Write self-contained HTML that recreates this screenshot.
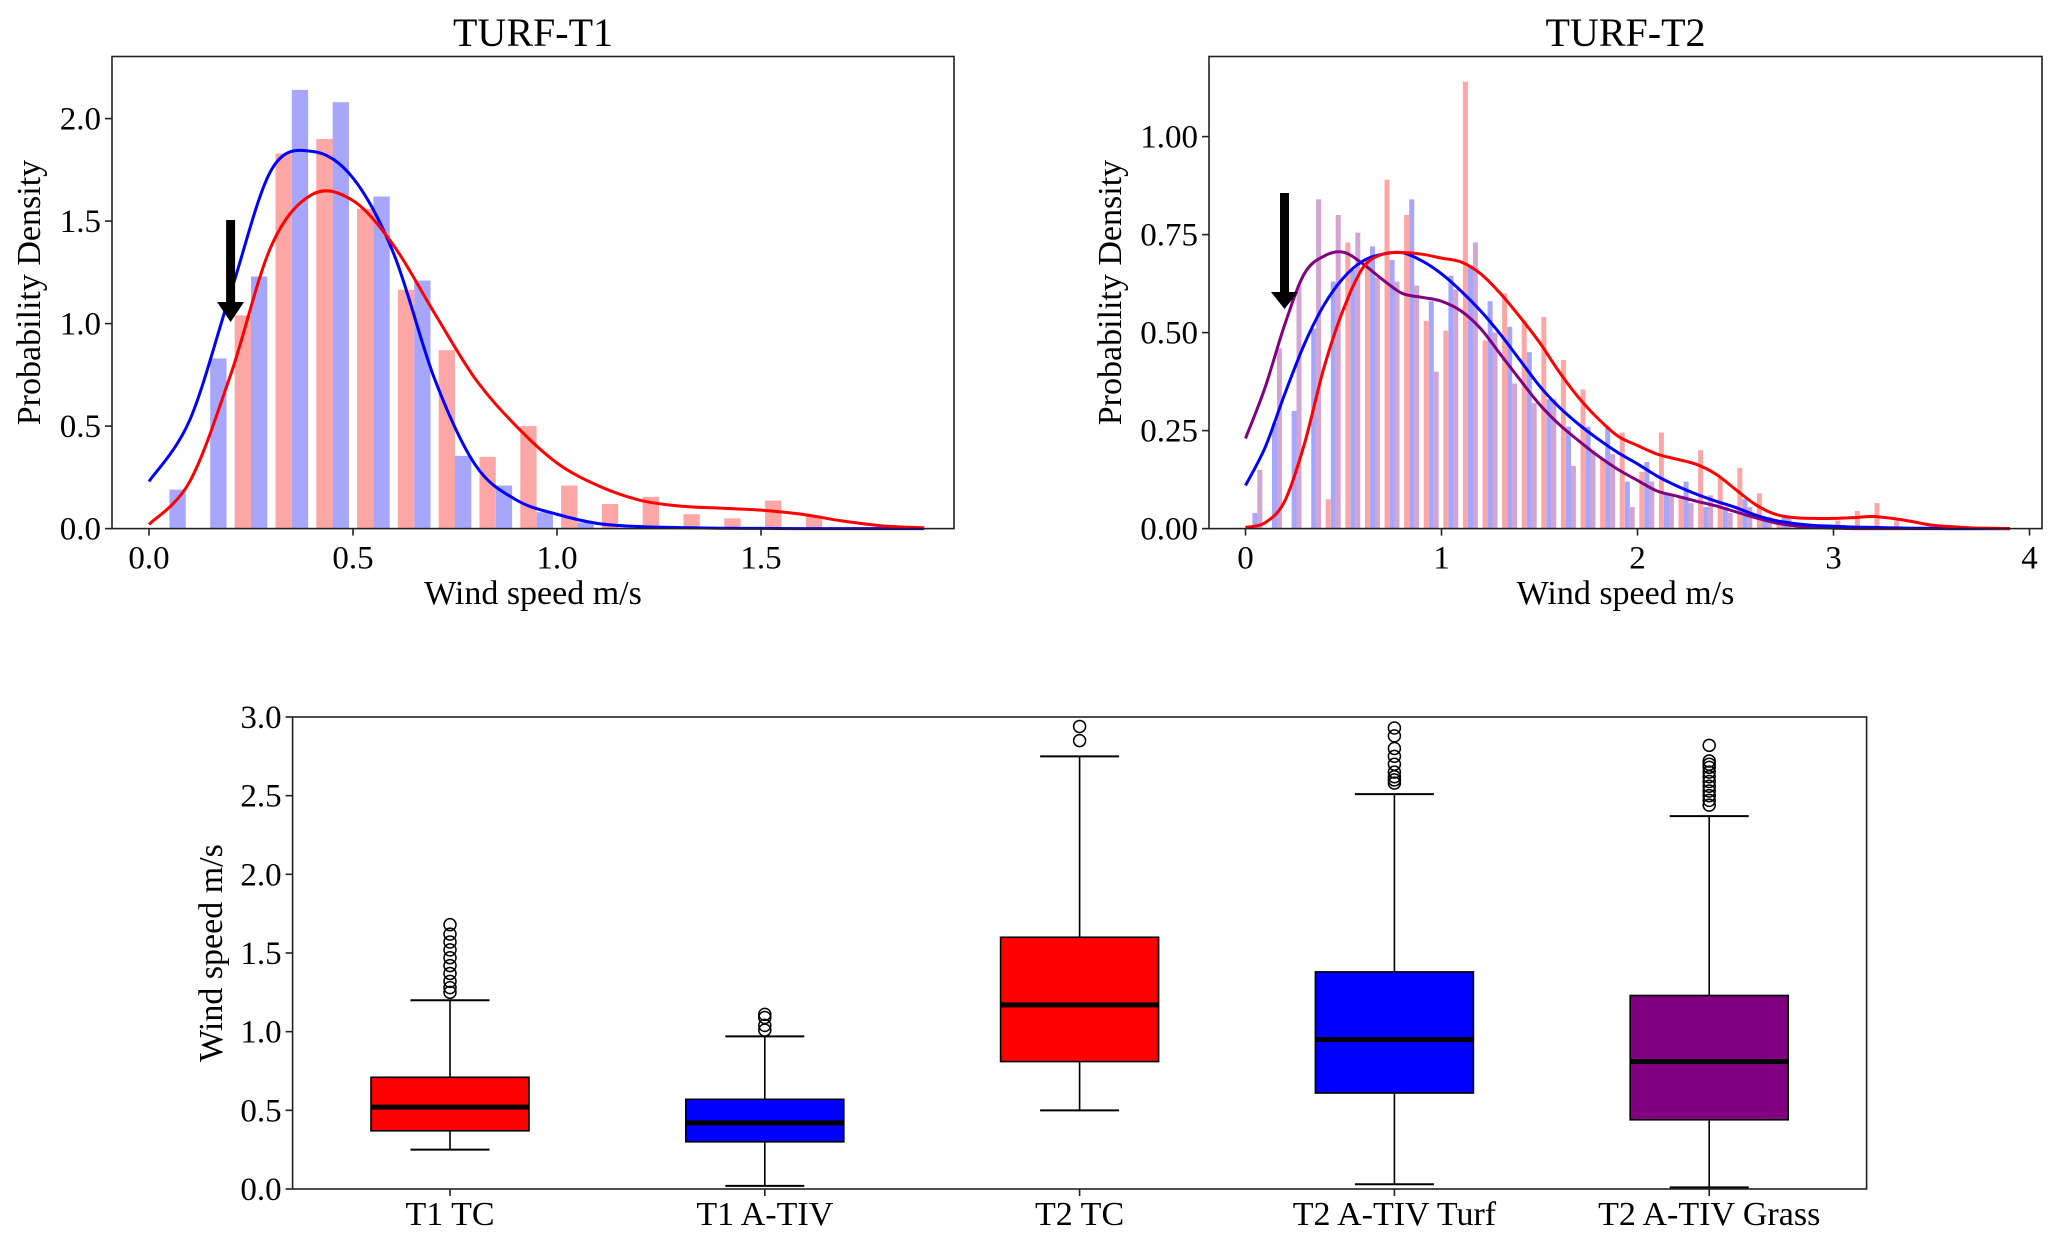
<!DOCTYPE html>
<html><head><meta charset="utf-8"><style>
html,body{margin:0;padding:0;background:#fff;}
svg{display:block;font-family:"Liberation Serif","DejaVu Serif",serif;}
</style></head><body>
<svg id="fig" width="2067" height="1245" viewBox="0 0 2067 1245" xmlns="http://www.w3.org/2000/svg"></svg>
<script>
// ---------- Data: TURF-T1 ----------
const t1BlueHist = [0.19,0.83,1.23,2.14,2.08,1.62,1.21,0.355,0.21,0.08,0.03];
const t1RedHist = [0,0,1.04,1.83,1.90,1.56,1.165,0.87,0.35,0.50,0.21,0.12,0.155,0.07,0.05,0.137,0.06];
const t1BlueKde = [0.23,0.53,1.15,1.75,1.84,1.71,1.34,0.73,0.31,0.14,0.07,0.025,0.01,0.005,0.002,0.001,0,0,0,0];
const t1RedKde = [0.02,0.23,0.75,1.38,1.63,1.60,1.38,1.05,0.73,0.50,0.32,0.21,0.14,0.11,0.10,0.09,0.07,0.037,0.013,0.004];
const t1XTicks = [0,0.5,1.0,1.5];
const t1XTickLabels = ["0.0","0.5","1.0","1.5"];
const t1YTicks = [0,0.5,1.0,1.5,2.0];
const t1YTickLabels = ["0.0","0.5","1.0","1.5","2.0"];
// ---------- Data: TURF-T2 ----------
const t2RedHist = [0,0,0,0,0.075,0.73,0.686,0.89,0.80,0.53,0.505,1.14,0.48,0.60,0.53,0.54,0.43,0.355,0.18,0.245,0.145,0.245,0.08,0.20,0.13,0.155,0.09,0.02,0.01,0.005,0.02,0.045,0.065,0.02];
const t2BlueHist = [0.04,0.27,0.30,0.51,0.63,0.66,0.72,0.685,0.84,0.58,0.645,0.67,0.58,0.515,0.45,0.33,0.26,0.26,0.26,0.12,0.17,0.09,0.12,0.055,0.055,0.075,0.02,0.03,0.01,0.005,0,0,0.005,0];
const t2PurpleHist = [0.15,0.46,0.62,0.84,0.80,0.755,0.64,0.63,0.62,0.40,0.61,0.73,0.50,0.37,0.32,0.33,0.16,0.20,0.19,0.055,0.12,0.085,0.065,0.085,0.04,0.055,0.03,0.03,0.01,0.005,0,0,0,0];
const t2PurpleKde = [0.23,0.36,0.52,0.65,0.695,0.705,0.675,0.635,0.60,0.59,0.58,0.555,0.51,0.445,0.38,0.317,0.266,0.224,0.185,0.151,0.123,0.096,0.083,0.07,0.058,0.043,0.028,0.015,0.007,0.003,0.001,0,0,0,0,0,0,0,0,0];
const t2BlueKde = [0.11,0.207,0.343,0.47,0.57,0.64,0.683,0.70,0.704,0.683,0.65,0.606,0.555,0.496,0.43,0.364,0.31,0.266,0.228,0.194,0.165,0.134,0.109,0.088,0.07,0.054,0.035,0.021,0.013,0.008,0.006,0.004,0.003,0.002,0.001,0.001,0,0,0,0];
const t2RedKde = [0.003,0.015,0.07,0.215,0.41,0.56,0.666,0.70,0.704,0.70,0.69,0.68,0.65,0.60,0.54,0.475,0.40,0.334,0.28,0.236,0.212,0.19,0.177,0.164,0.139,0.10,0.062,0.037,0.028,0.026,0.026,0.028,0.031,0.026,0.018,0.009,0.005,0.002,0.001,0];
const t2XTicks = [0,1,2,3,4];
const t2XTickLabels = ["0","1","2","3","4"];
const t2YTicks = [0,0.25,0.5,0.75,1.0];
const t2YTickLabels = ["0.00","0.25","0.50","0.75","1.00"];
// ---------- Data: box plot ----------
const boxCategories = ["T1 TC","T1 A-TIV","T2 TC","T2 A-TIV Turf","T2 A-TIV Grass"];
const boxColors = ["#ff0000","#0000ff","#ff0000","#0000ff","#800080"];
const boxWhiskerLow = [0.25,0.02,0.50,0.03,0.01];
const boxQ1 = [0.37,0.30,0.81,0.61,0.44];
const boxMedian = [0.52,0.42,1.17,0.95,0.81];
const boxQ3 = [0.71,0.57,1.60,1.38,1.23];
const boxWhiskerHigh = [1.20,0.97,2.75,2.51,2.37];
const boxOutliers = [
  [1.25,1.28,1.32,1.37,1.42,1.47,1.52,1.57,1.62,1.68],
  [1.01,1.04,1.09,1.11],
  [2.85,2.94],
  [2.58,2.60,2.62,2.65,2.70,2.75,2.80,2.88,2.93],
  [2.44,2.47,2.50,2.53,2.56,2.59,2.62,2.65,2.68,2.70,2.72,2.82]
];
const boxYTicks = [0,0.5,1.0,1.5,2.0,2.5,3.0];
const boxYTickLabels = ["0.0","0.5","1.0","1.5","2.0","2.5","3.0"];

const NS = "http://www.w3.org/2000/svg";
const svg = document.getElementById('fig');
function mk(tag, attrs, parent, text){
  const e = document.createElementNS(NS, tag);
  for (const k in attrs) e.setAttribute(k, attrs[k]);
  if (text !== undefined) e.textContent = text;
  (parent||svg).appendChild(e);
  return e;
}
function smoothPath(pts){
  let d = "M" + pts[0][0].toFixed(2) + "," + pts[0][1].toFixed(2);
  for (let i=0;i<pts.length-1;i++){
    const p0 = pts[i-1]||pts[i], p1=pts[i], p2=pts[i+1], p3=pts[i+2]||pts[i+1];
    const c1x = p1[0]+(p2[0]-p0[0])/6, c1y = p1[1]+(p2[1]-p0[1])/6;
    const c2x = p2[0]-(p3[0]-p1[0])/6, c2y = p2[1]-(p3[1]-p1[1])/6;
    d += " C"+c1x.toFixed(2)+","+c1y.toFixed(2)+" "+c2x.toFixed(2)+","+c2y.toFixed(2)+" "+p2[0].toFixed(2)+","+p2[1].toFixed(2);
  }
  return d;
}
function axesFrame(g, L, T, R, B, name){
  const r = mk('rect',{x:L,y:T,width:R-L,height:B-T,fill:'none',stroke:'#222','stroke-width':1.6},g);
  
  
}
function xTicksDraw(g, ticks, labels, sx, B, name){
  ticks.forEach((t,i)=>{
    const x = sx(t);
    const l = mk('line',{x1:x,y1:B,x2:x,y2:B+7,stroke:'#222','stroke-width':1.6},g);
    
    
    const tx = mk('text',{x:x,y:B+40,'font-size':33,'text-anchor':'middle',fill:'#000'},g,labels[i]);
    
    
  });
}
function yTicksDraw(g, ticks, labels, sy, L, name){
  ticks.forEach((t,i)=>{
    const y = sy(t);
    const l = mk('line',{x1:L-7,y1:y,x2:L,y2:y,stroke:'#222','stroke-width':1.6},g);
    
    
    const tx = mk('text',{x:L-11,y:y+11,'font-size':33,'text-anchor':'end',fill:'#000'},g,labels[i]);
    
    
  });
}
function arrow(g, cx, top, headTop, tip, name){
  const p = mk('polygon',{points:[[cx-4.5,top],[cx+4.5,top],[cx+4.5,headTop],[cx+13.5,headTop],[cx,tip],[cx-13.5,headTop],[cx-4.5,headTop]].map(a=>a.join(',')).join(' '),fill:'#000'},g);
  
  
}

// ================= Chart 1 =================
(function(){
  const L=112,R=954,T=56.5,B=528.6;
  const x0=149, xu=408, yu=205;
  const sx = v=>x0+v*xu, sy = v=>B-v*yu;
  const g = mk('g',{});
  
  
  const bw = 0.04;
  t1BlueHist.forEach((v,k)=>{
    const c = 0.07+0.1*k;
    const r = mk('rect',{x:sx(c-bw/2),y:sy(v),width:bw*xu,height:v*yu,fill:'#a6a6fb'},g);
    
    
  });
  t1RedHist.forEach((v,k)=>{
    const c = 0.03+0.1*k;
    const r = mk('rect',{x:sx(c-bw/2),y:sy(v),width:bw*xu,height:v*yu,fill:'#fda6a6'},g);
    
    
  });
  const pb = mk('path',{d:smoothPath(t1BlueKde.map((v,i)=>[sx(i*0.1),sy(v)])),fill:'none',stroke:'#0000ff','stroke-width':3},g);
  
  
  const pr = mk('path',{d:smoothPath(t1RedKde.map((v,i)=>[sx(i*0.1),sy(v)])),fill:'none',stroke:'#ff0000','stroke-width':3},g);
  
  
  arrow(g, sx(0.2), 220, 302, 322, 't1-arrow');
  axesFrame(g,L,T,R,B,'t1-axes-frame');
  xTicksDraw(g,t1XTicks,t1XTickLabels,sx,B,'t1-x');
  yTicksDraw(g,t1YTicks,t1YTickLabels,sy,L,'t1-y');
  const title = mk('text',{x:(L+R)/2,y:46,'font-size':40,'text-anchor':'middle'},g,'TURF-T1');
  
  
  const xl = mk('text',{x:(L+R)/2,y:604,'font-size':34,'text-anchor':'middle'},g,'Wind speed m/s');
  
  
  const yl = mk('text',{x:0,y:0,'font-size':34,'text-anchor':'middle',transform:'translate(40,'+((T+B)/2)+') rotate(-90)'},g,'Probability Density');
  
  
})();

// ================= Chart 2 =================
(function(){
  const L=1209,R=2042,T=56.5,B=528.6;
  const x0=1245.5, xu=196, yu=392;
  const sx = v=>x0+v*xu, sy = v=>B-v*yu;
  const g = mk('g',{});
  
  
  const bw = 0.0255;
  t2RedHist.forEach((v,k)=>{
    const c = 0.022+0.1*k;
    const r = mk('rect',{x:sx(c-bw/2),y:sy(v),width:bw*xu,height:v*yu,fill:'#fda6a6'},g);
    
    
  });
  t2BlueHist.forEach((v,k)=>{
    const c = 0.048+0.1*k;
    const r = mk('rect',{x:sx(c-bw/2),y:sy(v),width:bw*xu,height:v*yu,fill:'#a6a6fb'},g);
    
    
  });
  t2PurpleHist.forEach((v,k)=>{
    const c = 0.073+0.1*k;
    const r = mk('rect',{x:sx(c-bw/2),y:sy(v),width:bw*xu,height:v*yu,fill:'#d2a6d4'},g);
    
    
  });
  const pp = mk('path',{d:smoothPath(t2PurpleKde.map((v,i)=>[sx(i*0.1),sy(v)])),fill:'none',stroke:'#800080','stroke-width':3},g);
  
  
  const pb = mk('path',{d:smoothPath(t2BlueKde.map((v,i)=>[sx(i*0.1),sy(v)])),fill:'none',stroke:'#0000ff','stroke-width':3},g);
  
  
  const pr = mk('path',{d:smoothPath(t2RedKde.map((v,i)=>[sx(i*0.1),sy(v)])),fill:'none',stroke:'#ff0000','stroke-width':3},g);
  
  
  arrow(g, 1284.5, 193, 292, 309, 't2-arrow');
  axesFrame(g,L,T,R,B,'t2-axes-frame');
  xTicksDraw(g,t2XTicks,t2XTickLabels,sx,B,'t2-x');
  yTicksDraw(g,t2YTicks,t2YTickLabels,sy,L,'t2-y');
  const title = mk('text',{x:(L+R)/2,y:46,'font-size':40,'text-anchor':'middle'},g,'TURF-T2');
  
  
  const xl = mk('text',{x:(L+R)/2,y:604,'font-size':34,'text-anchor':'middle'},g,'Wind speed m/s');
  
  
  const yl = mk('text',{x:0,y:0,'font-size':34,'text-anchor':'middle',transform:'translate(1121,'+((T+B)/2)+') rotate(-90)'},g,'Probability Density');
  
  
})();

// ================= Box plot =================
(function(){
  const L=292.6,R=1866.6,T=717,B=1189;
  const yu=(B-T)/3;
  const sy = v=>B-v*yu;
  const sx = i=>L+(i+0.5)*((R-L)/boxCategories.length);
  const g = mk('g',{});
  
  
  const bw=158, cw=79;
  boxCategories.forEach((c,i)=>{
    const x = sx(i);
    const w1 = mk('line',{x1:x,y1:sy(boxWhiskerLow[i]),x2:x,y2:sy(boxQ1[i]),stroke:'#000','stroke-width':1.6},g);
    
    
    const w2 = mk('line',{x1:x,y1:sy(boxQ3[i]),x2:x,y2:sy(boxWhiskerHigh[i]),stroke:'#000','stroke-width':1.6},g);
    
    
    const c1 = mk('line',{x1:x-cw/2,y1:sy(boxWhiskerLow[i]),x2:x+cw/2,y2:sy(boxWhiskerLow[i]),stroke:'#000','stroke-width':2},g);
    
    
    const c2 = mk('line',{x1:x-cw/2,y1:sy(boxWhiskerHigh[i]),x2:x+cw/2,y2:sy(boxWhiskerHigh[i]),stroke:'#000','stroke-width':2},g);
    
    
    const r = mk('rect',{x:x-bw/2,y:sy(boxQ3[i]),width:bw,height:sy(boxQ1[i])-sy(boxQ3[i]),fill:boxColors[i],stroke:'#000','stroke-width':1.6},g);
    
    
    const m = mk('line',{x1:x-bw/2,y1:sy(boxMedian[i]),x2:x+bw/2,y2:sy(boxMedian[i]),stroke:'#000','stroke-width':5},g);
    
    
    boxOutliers[i].forEach(v=>{
      const o = mk('circle',{cx:x,cy:sy(v),r:6,fill:'none',stroke:'#000','stroke-width':1.5},g);
      
      
    });
    const tk = mk('line',{x1:x,y1:B,x2:x,y2:B+7,stroke:'#222','stroke-width':1.6},g);
    
    
    const lb = mk('text',{x:x,y:B+36,'font-size':34,'text-anchor':'middle'},g,c);
    
    
  });
  axesFrame(g,L,T,R,B,'box-axes-frame');
  yTicksDraw(g,boxYTicks,boxYTickLabels,sy,L,'box-y');
  const yl = mk('text',{x:0,y:0,'font-size':34,'text-anchor':'middle',transform:'translate(222,'+((T+B)/2)+') rotate(-90)'},g,'Wind speed m/s');
  
  
})();
</script>
</body></html>
